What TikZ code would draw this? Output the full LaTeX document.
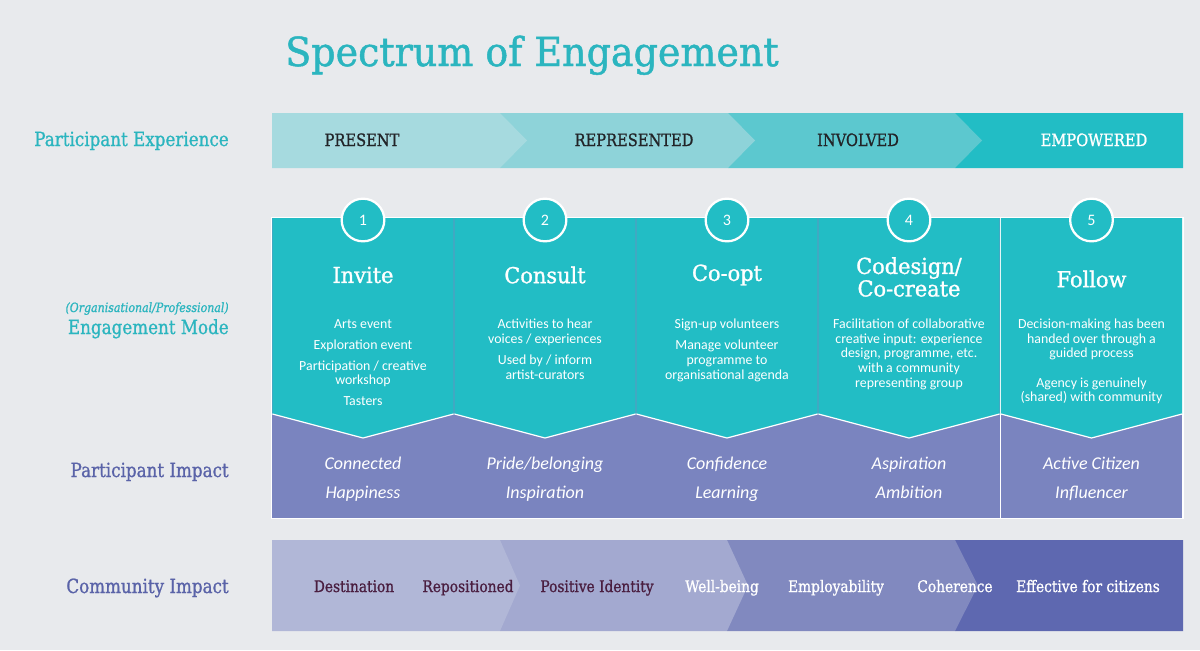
\documentclass[tikz,border=0pt]{standalone}
\usepackage{fontspec}
\setmainfont{Carlito}
\newfontfamily\slab[FakeStretch=0.95,FakeBold=1.2]{DejaVu Serif}
\newfontfamily\slabn[FakeStretch=0.86,FakeBold=1]{DejaVu Serif}
\usetikzlibrary{positioning}

\definecolor{bgcol}{HTML}{E8EAED}
\definecolor{teal1}{HTML}{A6DADF}
\definecolor{teal2}{HTML}{8ED3D9}
\definecolor{teal3}{HTML}{5CC8CF}
\definecolor{teal4}{HTML}{22BDC5}
\definecolor{lav1}{HTML}{B1B7D7}
\definecolor{lav2}{HTML}{A3A9D0}
\definecolor{lav3}{HTML}{8189BF}
\definecolor{lav4}{HTML}{5E68B0}
\definecolor{impcol}{HTML}{7A84BF}
\definecolor{headcyan}{HTML}{2BB5BF}
\definecolor{headpurp}{HTML}{5A63A8}
\definecolor{plum}{HTML}{4A1E40}
\definecolor{inkdark}{HTML}{222428}

\begin{document}
\begin{tikzpicture}[
  x=0.75pt,y=-0.75pt,
  rowlbl/.style={anchor=base east,inner sep=0pt,font=\slabn\fontsize{14.6}{16}\selectfont},
  barlbl/.style={anchor=base,inner sep=0pt,text=inkdark,font=\slabn\fontsize{12.75}{14}\selectfont},
  numcirc/.style={circle,fill=teal4,draw=white,line width=1.7pt,minimum size=32pt,
                  inner sep=0pt,text=white,font=\fontsize{12}{14}\selectfont},
  coltitle/.style={align=center,inner sep=0pt,text=white,font=\slab\fontsize{16.5}{15.75}\selectfont},
  colbody/.style={anchor=north,align=center,inner sep=0pt,text=white,font=\fontsize{10.4}{10.9}\selectfont},
  impact/.style={anchor=base,inner sep=0pt,text=white,font=\itshape\fontsize{13.5}{15}\selectfont},
  comlbl/.style={anchor=base,inner sep=0pt,font=\slabn\fontsize{12}{14}\selectfont}]

\useasboundingbox (0,0) rectangle (1200,650);
\fill[bgcol] (0,0) rectangle (1200,650);

% --- title ---
\node[anchor=base west,inner sep=0pt,text=headcyan,font=\slab\fontsize{30}{32}\selectfont]
  (title) at (285,66) {Spectrum of Engagement};

% --- row labels ---
\node[rowlbl,text=headcyan] (explbl) at (229,146) {Participant Experience};
\node[anchor=base east,inner sep=0pt,text=headcyan,font=\slabn\itshape\fontsize{9.6}{11}\selectfont]
  (orglbl) at (229,312) {(Organisational/Professional)};
\node[rowlbl,text=headcyan] (modelbl) at (229,334) {Engagement Mode};
\node[rowlbl,text=headpurp] (implbl) at (229,477) {Participant Impact};
\node[rowlbl,text=headpurp] (comlbl) at (229,593) {Community Impact};

% --- experience bar, drawn right to left so each tip overlaps ---
\foreach \xa/\xb/\tp/\col in {955/1183/0/teal4,728/955/27/teal3,500/728/27/teal2,272/500/27/teal1}
  \fill[\col] (\xa,113) -- (\xb,113) -- (\xb+\tp,140.5) -- (\xb,168) -- (\xa,168) -- cycle;

\node[barlbl] (present) at (362,146) {PRESENT};
\node[barlbl] (represented) at (634,146) {REPRESENTED};
\node[barlbl] (involved) at (858,146) {INVOLVED};
\node[barlbl,text=white] (empowered) at (1094,146) {EMPOWERED};

% --- five engagement columns ---
\fill[white] (271,217) rectangle (1184,519);
\foreach \i/\cx in {1/363,2/545,3/727,4/909,5/1091.5}{
  \fill[impcol] (\cx-90.6,218) rectangle (\cx+90.6,518);
  \fill[teal4] (\cx-90.6,218) -- (\cx+90.6,218) -- (\cx+90.6,414) -- (\cx,438)
    -- (\cx-90.6,414) -- cycle;
  \draw[white,line width=0.9pt] (\cx-90.6,414) -- (\cx,438) -- (\cx+90.6,414);
  \node[numcirc] (c\i) at (\cx,220) {\i};
}

\node[coltitle] (t1) at (363,275) {Invite};
\node[coltitle] (t2) at (545,275) {Consult};
\node[coltitle] (t3) at (727,275) {Co-opt};
\node[coltitle] (t4) at (909,277) {Codesign/\\Co-create};
\node[coltitle] (t5) at (1091.5,279) {Follow};

\node[colbody] (b1) at (363,319)
  {Arts event\\[4.9pt]Exploration event\\[4.9pt]Participation / creative\\workshop\\[4.9pt]Tasters};
\node[colbody] (b2) at (545,319)
  {Activities to hear\\voices / experiences\\[4.9pt]Used by / inform\\artist-curators};
\node[colbody] (b3) at (727,319)
  {Sign-up volunteers\\[4.9pt]Manage volunteer\\programme to\\organisational agenda};
\node[colbody] (b4) at (909,319)
  {Facilitation of collaborative\\creative input: experience\\design, programme, etc.\\with a community\\representing group};
\node[colbody] (b5) at (1091.5,319)
  {Decision-making has been\\handed over through a\\guided process\\[10.9pt]Agency is genuinely\\(shared) with community};

% --- participant impact ---
\foreach \i/\cx/\la/\lb in {1/363/Connected/Happiness,2/545/Pride\slash belonging/Inspiration,
    3/727/Confidence/Learning,4/909/Aspiration/Ambition,5/1091.5/Active Citizen/Influencer}{
  \node[impact] (ia\i) at (\cx,469) {\la};
  \node[impact] (ib\i) at (\cx,498) {\lb};
}

% --- community bar ---
\foreach \xa/\xb/\tp/\col in {955/1183/0/lav4,727/955/23/lav3,500/727/21/lav2,272/500/20/lav1}
  \fill[\col] (\xa,540) -- (\xb,540) -- (\xb+\tp,585.5) -- (\xb,631) -- (\xa,631) -- cycle;

\node[comlbl,text=plum] (destination) at (354,592) {Destination};
\node[comlbl,text=plum] (repositioned) at (468,592) {Repositioned};
\node[comlbl,text=plum] (identity) at (597,592) {Positive Identity};
\node[comlbl,text=white] (wellbeing) at (722,592) {Well-being};
\node[comlbl,text=white] (employ) at (836,592) {Employability};
\node[comlbl,text=white] (coherence) at (955,592) {Coherence};
\node[comlbl,text=white] (effective) at (1088,592) {Effective for citizens};

\end{tikzpicture}
\end{document}
